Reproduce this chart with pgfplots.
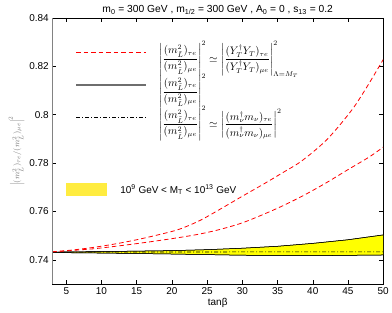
\documentclass[border=0pt]{standalone}
\usepackage{amsmath}
\usepackage[no-math]{fontspec}
\setmainfont{Liberation Sans}
\usepackage{pgfplots}
\pgfplotsset{compat=1.18}
\usepgfplotslibrary{fillbetween}
\usetikzlibrary{calc}
\definecolor{bandyellow}{RGB}{255,255,0}
\definecolor{legyellow}{RGB}{255,236,64}
\definecolor{leggray}{RGB}{110,110,110}
\definecolor{axgray}{RGB}{130,130,130}
\definecolor{labgray}{RGB}{120,120,120}
\definecolor{dashred}{RGB}{255,0,0}
\begin{document}
\begin{tikzpicture}
\begin{axis}[
  name=ax,
  scale only axis,
  width=331bp, height=266bp,
  xmin=3, xmax=50, ymin=0.73, ymax=0.84,
  xtick={5,10,...,50},
  ytick={0.74,0.76,0.78,0.8,0.82,0.84},
  tick align=inside,
  major tick length=4bp,
  tick style={black, line width=0.5pt},
  axis line style={black, line width=0.5pt},
  /pgf/number format/assume math mode=true,
  yticklabel style={/pgf/number format/fixed, /pgf/number format/precision=2},
  ticklabel style={font=\fontsize{10}{12}\selectfont},
  xlabel={tanβ},
  xlabel style={font=\fontsize{10}{12}\selectfont, yshift=3bp},
  ylabel={$\left|(m^2_{\tilde L})_{\tau e}/(m^2_{\tilde L})_{\mu e}\right|^2$},
  ylabel style={font=\fontsize{8}{10}\selectfont, text=labgray, yshift=-2bp},
  title={m\textsubscript{0} = 300 GeV , m\textsubscript{1/2} = 300 GeV , A\textsubscript{0} = 0 , s\textsubscript{13} = 0.2},
  title style={font=\fontsize{10.3}{12}\selectfont, yshift=-6bp},
  legend style={at={(0.07,0.914)}, anchor=north west, draw=none, fill=none,
    inner sep=0pt, row sep=10bp, nodes={inner sep=0pt}, font=\fontsize{10.5}{12}\selectfont},
  legend cell align=left,
  legend image code/.code={\draw[#1] (0bp,0bp) -- (70bp,0bp); \path (82bp,0bp);},
]
\addlegendimage{draw=dashred, color=dashred, line width=0.8pt, dash pattern=on 4.5bp off 3bp}
\addlegendentry{$\left|\dfrac{(m^2_{\tilde L})_{\tau e}}{(m^2_{\tilde L})_{\mu e}}\right|^2 \simeq \left|\dfrac{(Y_T^\dagger Y_T)_{\tau e}}{(Y_T^\dagger Y_T)_{\mu e}}\right|^2_{\Lambda=M_T}$}
\addlegendimage{draw=leggray, color=leggray, line width=1.3pt, solid}
\addlegendentry{$\left|\dfrac{(m^2_{\tilde L})_{\tau e}}{(m^2_{\tilde L})_{\mu e}}\right|^2$}
\addlegendimage{draw=black, color=black, line width=0.6pt, dash pattern=on 4bp off 2bp on 1bp off 2bp}
\addlegendentry{$\left|\dfrac{(m^2_{\tilde L})_{\tau e}}{(m^2_{\tilde L})_{\mu e}}\right|^2 \simeq \left|\dfrac{(m_\nu^\dagger m_\nu)_{\tau e}}{(m_\nu^\dagger m_\nu)_{\mu e}}\right|^2$}
\addplot[name path=top, black, line width=0.5pt, forget plot] coordinates {
(3,0.7432) (10,0.7434) (20,0.7438) (25,0.7442) (30,0.7448) (35,0.7456) (40,0.7468) (45,0.7483) (50,0.7503)};
\addplot[name path=bot, black, line width=0.5pt, forget plot] coordinates {
(3,0.7430) (10,0.7428) (20,0.7424) (30,0.7419) (40,0.7417) (50,0.7420)};
\addplot[bandyellow, forget plot] fill between[of=top and bot];
\addplot[black, line width=0.5pt, forget plot] coordinates {
(3,0.7432) (10,0.7434) (20,0.7438) (25,0.7442) (30,0.7448) (35,0.7456) (40,0.7468) (45,0.7483) (50,0.7503)};
\addplot[black, line width=0.5pt, forget plot] coordinates {
(3,0.7430) (10,0.7428) (20,0.7424) (30,0.7419) (40,0.7417) (50,0.7420)};
% red dashed upper
\addplot[dashred, line width=0.8pt, dash pattern=on 4.5bp off 3bp, smooth, forget plot] coordinates {
(3,0.7433) (6,0.7441) (9,0.7452) (12,0.7466) (15,0.7483) (18,0.7503) (21,0.7526) (24,0.7563) (27,0.7612) (30,0.7663) (33,0.7713) (36,0.7765) (38,0.7800) (40,0.7845) (42,0.7897) (44,0.7963) (46,0.8038) (48,0.8130) (50,0.8228)};
% black dash-dot
\addplot[black, line width=0.6pt, dash pattern=on 4bp off 2bp on 1bp off 2bp, forget plot] coordinates {
(3,0.7432) (50,0.7433)};
% red dashed lower
\addplot[dashred, line width=0.8pt, dash pattern=on 4.5bp off 3bp, smooth, forget plot] coordinates {
(3,0.7433) (6,0.7439) (9,0.7446) (12,0.7456) (15,0.7467) (18,0.7479) (21,0.7492) (24,0.7507) (27,0.7527) (30,0.7553) (33,0.7588) (36,0.7627) (39,0.7671) (42,0.7720) (45,0.7773) (48,0.7825) (50,0.7866)};
\draw[axgray, line width=1pt] (rel axis cs:0,0) -- (rel axis cs:0,1);
\draw[axgray, line width=1pt] (rel axis cs:0,0) -- (rel axis cs:1,0);
\end{axis}
\begin{axis}[
  scale only axis,
  width=331bp, height=266bp,
  xmin=3, xmax=50, ymin=0.73, ymax=0.84,
  hide axis,
  legend style={at={(0.042,0.355)}, anchor=west, draw=none, fill=none,
    inner sep=0pt, nodes={inner sep=0pt}, font=\fontsize{10}{12}\selectfont},
  legend image code/.code={\fill[#1] (0bp,-6.5bp) rectangle (41bp,6.5bp); \path (54bp,0bp);},
]
\addlegendimage{fill=legyellow, draw=none}
\addlegendentry{10\textsuperscript{9} GeV < M\textsubscript{T} < 10\textsuperscript{13} GeV}
\end{axis}
\pgfresetboundingbox
\path ($(ax.south west)+(-52.2bp,-29bp)$) rectangle ($(ax.north east)+(8.8bp,18bp)$);
\end{tikzpicture}
\end{document}
